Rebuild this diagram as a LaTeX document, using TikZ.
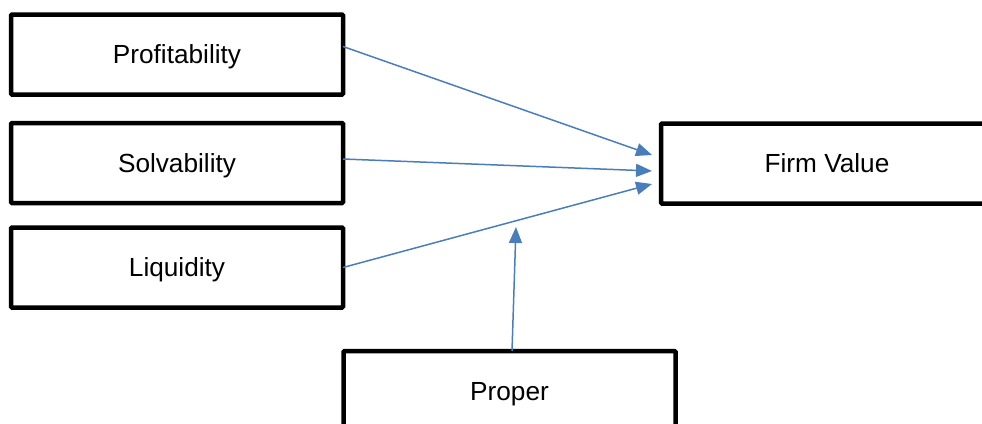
\documentclass[tikz,border=0pt]{standalone}
\usepackage{fontspec}
\setmainfont{Liberation Sans}
\usetikzlibrary{arrows.meta}
\definecolor{linkblue}{HTML}{4A7EBB}
\begin{document}
\begin{tikzpicture}[x=1pt,y=-1pt,
  varbox/.style={draw=black,line width=4.5pt,rectangle,rounded corners=1pt,
    minimum width=332pt,minimum height=80pt,inner sep=0pt,outer sep=0pt,
    font=\fontsize{26.2pt}{31pt}\selectfont,
    text height=18pt,text depth=0pt},
  link/.style={draw=linkblue,line width=1.5pt,
    -{Triangle[length=16pt,width=13pt]}}]
  \useasboundingbox (0,0) rectangle (982,423);
  \clip (0,0) rectangle (982,423);
  % independent variables
  \node[varbox] (prof) at (177,54.5) {Profitability};
  \node[varbox] (solv) at (177,163) {Solvability};
  \node[varbox] (liq) at (177,267.5) {Liquidity};
  % dependent variable
  \node[varbox] (fv) at (827,163.5) {Firm Value};
  % moderating variable
  \node[varbox] (prop) at (509.5,391) {Proper};
  \coordinate (modtip) at (516,227);
  % effects on firm value
  \draw[link] ([yshift=8pt]prof.east) -- ([xshift=-9pt,yshift=8.5pt]fv.west);
  \draw[link] ([yshift=4pt]solv.east) -- ([xshift=-9pt,yshift=-7.5pt]fv.west);
  \draw[link] (liq.east) -- ([xshift=-9pt,yshift=-20.5pt]fv.west);
  \draw[link] ([xshift=2.5pt]prop.north) -- (modtip);
\end{tikzpicture}
\end{document}
